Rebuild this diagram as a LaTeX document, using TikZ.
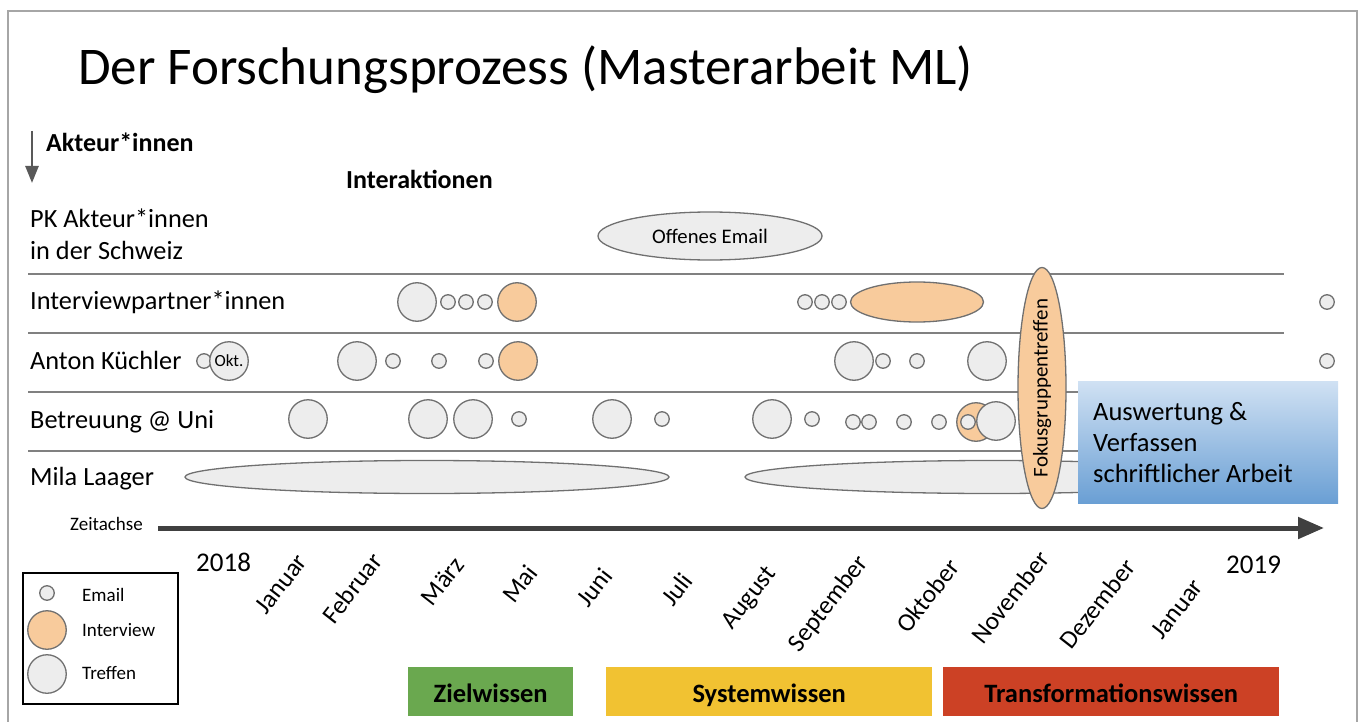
\documentclass[tikz,border=0pt]{standalone}
\usepackage{fontspec}
\setmainfont{Carlito}
\usetikzlibrary{arrows.meta,shapes.geometric}
\definecolor{framegray}{HTML}{A6A6A6}
\definecolor{linegray}{HTML}{808080}
\definecolor{bubblegray}{HTML}{EDEDED}
\definecolor{bubbleedge}{HTML}{707070}
\definecolor{peach}{HTML}{F8CB9C}
\definecolor{axisgray}{HTML}{404040}
\definecolor{arrowgray}{HTML}{595959}
\definecolor{boxtop}{HTML}{D0E1F3}
\definecolor{boxbottom}{HTML}{6A9FD4}
\definecolor{zielgreen}{HTML}{6AA84F}
\definecolor{systemyellow}{HTML}{F1C232}
\definecolor{transred}{HTML}{CC4125}
\newcommand{\fs}[1]{\fontsize{#1}{#1}\selectfont}
\begin{document}
\begin{tikzpicture}[x=1pt,y=-1pt,
  txt/.style={inner sep=0pt, anchor=base west, text=black},
  email/.style={circle, draw=bubbleedge, fill=bubblegray, line width=1.3pt, minimum size=14.5pt, inner sep=0pt},
  treffen/.style={circle, draw=bubbleedge, fill=bubblegray, line width=1.3pt, minimum size=38.5pt, inner sep=0pt},
  interview/.style={treffen, fill=peach},
  rowline/.style={draw=linegray, line width=1.5pt},
  band/.style={ellipse, draw=bubbleedge, fill=bubblegray, line width=1.3pt, inner sep=0pt},
  month/.style={rotate=52, anchor=east, inner sep=0pt, font=\fs{25.5}},
  phase/.style={anchor=north west, minimum height=49pt, inner sep=0pt, text height=22pt, text depth=0pt,
                font=\fs{26.5}\bfseries, text=black}]
\useasboundingbox (0,0) rectangle (1362,722);

% outer frame, open at the bottom
\draw[framegray, line width=2pt] (8,722) -- (8,11) -- (1357,11) -- (1357,722);

% title
\node[txt, font=\fs{53}] (title) at (78,85) {Der Forschungsprozess (Masterarbeit ML)};

% axis heading for the actors
\coordinate (akteurTop) at (32,131);
\coordinate (akteurTip) at (32,183);
\draw[arrowgray, line width=2.5pt, -{Triangle[length=17pt,width=13pt]}] (akteurTop) -- (akteurTip);
\node[txt, font=\fs{26}\bfseries] (akteure) at (46,152) {Akteur*innen};
\node[txt, font=\fs{26}\bfseries] (interaktionen) at (346,189) {Interaktionen};

% row separators
\foreach \yy/\nm in {274/sepA,333/sepB,392/sepC,451/sepD} {
  \coordinate (\nm L) at (28,\yy);
  \coordinate (\nm R) at (1284,\yy);
  \draw[rowline] (\nm L) -- (\nm R);
}

% row labels
\node[txt, font=\fs{26.3}] (lblPKa) at (30,227) {PK Akteur*innen};
\node[txt, font=\fs{26.3}] (lblPKb) at (30,259) {in der Schweiz};
\node[txt, font=\fs{26.3}] (lblIP) at (30,309) {Interviewpartner*innen};
\node[txt, font=\fs{26.3}] (lblAK) at (30,369) {Anton Küchler};
\node[txt, font=\fs{26.3}] (lblBU) at (30,428) {Betreuung @ Uni};
\node[txt, font=\fs{26.3}] (lblML) at (30,485) {Mila Laager};

% PK actors
\node[band, minimum width=224pt, minimum height=48pt, font=\fs{20.7}] (offen) at (710,236) {Offenes Email};

% Interviewpartner*innen
\node[treffen] (ip1) at (417,302) {};
\node[email] (ip2) at (448,302) {};
\node[email] (ip3) at (466,302) {};
\node[email] (ip4) at (485,302) {};
\node[interview] (ip5) at (517,302) {};
\node[email] (ip6) at (805,302) {};
\node[email] (ip7) at (822,302) {};
\node[email] (ip8) at (839,302) {};
\node[band, fill=peach, minimum width=133pt, minimum height=40pt] (ip9) at (917,302) {};
\node[email] (ip10) at (1327,302) {};

% Anton Küchler
\node[email] (ak1) at (204,361) {};
\node[treffen, font=\fs{17}] (ak2) at (229,361) {Okt.};
\node[treffen] (ak3) at (357,361) {};
\node[email] (ak4) at (393,361) {};
\node[email] (ak5) at (439,361) {};
\node[email] (ak6) at (486,361) {};
\node[interview] (ak7) at (518,361) {};
\node[treffen] (ak8) at (854,361) {};
\node[email] (ak9) at (883,361) {};
\node[email] (ak10) at (917,361) {};
\node[treffen] (ak11) at (987,361) {};
\node[email] (ak12) at (1327,361) {};

% Betreuung @ Uni
\node[treffen] (bu1) at (308,419) {};
\node[treffen] (bu2) at (428,419) {};
\node[treffen] (bu3) at (473,419) {};
\node[email] (bu4) at (519,419) {};
\node[treffen] (bu5) at (612,419) {};
\node[email] (bu6) at (662,419) {};
\node[treffen] (bu7) at (772,419) {};
\node[email] (bu8) at (812,419) {};
\node[email] (bu9) at (853,422) {};
\node[email] (bu10) at (869,422) {};
\node[email] (bu11) at (904,422) {};
\node[email] (bu12) at (939,422) {};
\node[interview] (bu13) at (976,422) {};
\node[email] (bu14) at (968,422) {};
\node[treffen] (bu15) at (996,421) {};

% Mila Laager
\node[band, minimum width=484pt, minimum height=33pt] (ml1) at (427,477) {};
\node[band, minimum width=494pt, minimum height=33pt] (ml2) at (992,477) {};

% focus group meeting
\node[band, fill=peach, minimum width=48pt, minimum height=241pt] (fokus) at (1042,388) {};
\node[rotate=90, inner sep=0pt, font=\fs{21}] (fokustxt) at (fokus.center) {Fokusgruppentreffen};

% analysis and writing
\node[anchor=north west, minimum width=260pt, minimum height=122pt, inner sep=0pt,
      top color=boxtop, bottom color=boxbottom] (auswertung) at (1078,381) {};
\node[txt, font=\fs{26.5}] (aw1) at (1093,420) {Auswertung \&};
\node[txt, font=\fs{26.5}] (aw2) at (1093,451) {Verfassen};
\node[txt, font=\fs{26.5}] (aw3) at (1093,482) {schriftlicher Arbeit};

% time axis
\node[txt, font=\fs{19}] (zeitachse) at (70,530) {Zeitachse};
\coordinate (axisStart) at (158,528);
\coordinate (axisEnd) at (1324,528);
\draw[axisgray, line width=5pt, -{Triangle[length=26pt,width=21pt]}] (axisStart) -- (axisEnd);

\node[txt, font=\fs{27}] (y2018) at (196,571) {2018};
\node[txt, font=\fs{27}] (y2019) at (1226,573) {2019};

\node[month] (m01) at (302,557) {Januar};
\node[month] (m02) at (377,556) {Februar};
\node[month] (m03) at (459,560) {März};
\node[month] (m05) at (532,568) {Mai};
\node[month] (m06) at (607,571) {Juni};
\node[month] (m07) at (687,576) {Juli};
\node[month] (m08) at (772,570) {August};
\node[month] (m09) at (864,559) {September};
\node[month] (m10) at (954,562) {Oktober};
\node[month] (m11) at (1044,554) {November};
\node[month] (m12) at (1130,562) {Dezember};
\node[month] (m13) at (1198,582) {Januar};

% legend
\node[anchor=north west, draw=black, line width=1.5pt, minimum width=155pt, minimum height=131pt, inner sep=0pt] (legend) at (22,572) {};
\node[email] (lgE) at (47,593) {};
\node[interview] (lgI) at (47,630) {};
\node[treffen] (lgT) at (47,674) {};
\node[txt, font=\fs{19}] (lgEt) at (82,601) {Email};
\node[txt, font=\fs{19}] (lgIt) at (82,636) {Interview};
\node[txt, font=\fs{19}] (lgTt) at (82,679) {Treffen};

% knowledge phases
\node[phase, fill=zielgreen, minimum width=165pt] (ziel) at (408,667) {Zielwissen};
\node[phase, fill=systemyellow, minimum width=326pt] (system) at (606,667) {Systemwissen};
\node[phase, fill=transred, minimum width=336pt] (trans) at (943,667) {Transformationswissen};
\end{tikzpicture}
\end{document}
